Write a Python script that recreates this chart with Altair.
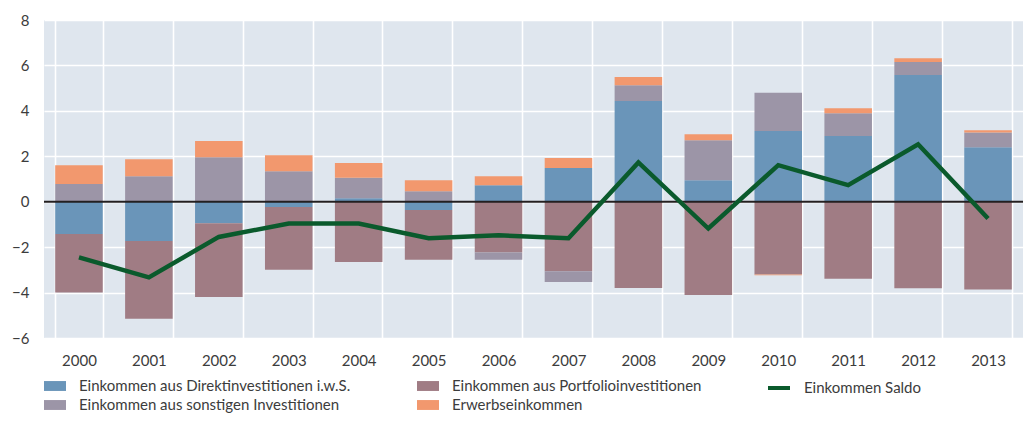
import altair as alt
import pandas as pd

years = [str(y) for y in range(2000, 2014)]
direkt = [-1.42, -1.73, -0.95, -0.23, 0.15, -0.37, 0.73, 1.48, 4.43, 0.95, 3.11, 2.89, 5.58, 2.40]
portfolio = [-2.58, -3.42, -3.24, -2.76, -2.65, -2.19, -2.24, -3.06, -3.80, -4.11, -3.20, -3.39, -3.81, -3.87]
sonstige = [0.78, 1.12, 1.96, 1.34, 0.90, 0.46, -0.32, -0.47, 0.70, 1.76, 1.69, 1.01, 0.57, 0.65]
erwerb = [0.83, 0.75, 0.71, 0.71, 0.65, 0.49, 0.39, 0.44, 0.36, 0.26, -0.04, 0.22, 0.17, 0.10]
saldo = [-2.45, -3.33, -1.55, -0.96, -0.96, -1.61, -1.48, -1.61, 1.73, -1.18, 1.61, 0.73, 2.53, -0.74]

series_names = [
    "Einkommen aus Direktinvestitionen i.w.S.",
    "Einkommen aus Portfolioinvestitionen",
    "Einkommen aus sonstigen Investitionen",
    "Erwerbseinkommen",
]
series_colors = ["#6a95b9", "#a07c84", "#9c95a7", "#f2986e"]
saldo_name = "Einkommen Saldo"
saldo_color = "#0a5a2c"
y_ticks = [-6, -4, -2, 0, 2, 4, 6, 8]

rows = []
for i, (name, vals) in enumerate(zip(series_names, [direkt, portfolio, sonstige, erwerb])):
    for yr, v in zip(years, vals):
        rows.append({"Jahr": yr, "Serie": name, "Wert": v, "Ordnung": i})
bars_df = pd.DataFrame(rows)
line_df = pd.DataFrame({"Jahr": years, "Wert": saldo, "Serie": [saldo_name] * len(years)})
zero_df = pd.DataFrame({"Wert": [0]})

FONT = "Lato"
LABEL_COLOR = "#3c3c3c"
LEG_Y = 355

x_enc = alt.X(
    "Jahr:O",
    scale=alt.Scale(paddingInner=0.32, paddingOuter=0.16),
    axis=alt.Axis(title=None, labelAngle=0, tickBand="extent", grid=True, ticks=False,
                  domain=False, labelPadding=15),
)
y_enc = alt.Y(
    "Wert:Q",
    stack="zero",
    scale=alt.Scale(domain=[-6, 8], nice=False, zero=False),
    axis=alt.Axis(title=None, values=y_ticks, grid=True, ticks=False, domain=False,
                  labelPadding=15),
)

bars = alt.Chart(bars_df).mark_bar().encode(
    x=x_enc,
    y=y_enc,
    color=alt.Color(
        "Serie:N",
        scale=alt.Scale(domain=series_names, range=series_colors),
        legend=alt.Legend(
            title=None, orient="none", legendX=0, legendY=LEG_Y, columns=2, direction="horizontal",
            symbolType="M-1,-0.45H1V0.45H-1Z", symbolSize=484, symbolStrokeWidth=0,
            symbolOpacity=1, labelFont=FONT, labelFontSize=15, labelColor=LABEL_COLOR,
            labelOffset=13, rowPadding=0, columnPadding=66, padding=0, labelLimit=400,
        ),
    ),
    order=alt.Order("Ordnung:Q", sort="ascending"),
)

zero_rule = alt.Chart(zero_df).mark_rule(color="#231f20", strokeWidth=2).encode(
    y=alt.Y("Wert:Q")
)

line = alt.Chart(line_df).mark_line(strokeWidth=4.5).encode(
    x=alt.X("Jahr:O"),
    y=alt.Y("Wert:Q"),
    stroke=alt.Stroke(
        "Serie:N",
        scale=alt.Scale(domain=[saldo_name], range=[saldo_color]),
        legend=alt.Legend(
            title=None, orient="none", legendX=722, legendY=LEG_Y,
            symbolType="stroke", symbolSize=484, symbolStrokeWidth=4,
            labelFont=FONT, labelFontSize=15, labelColor=LABEL_COLOR,
            labelOffset=12, padding=0,
        ),
    ),
)

chart = (
    alt.layer(bars, zero_rule, line)
    .properties(
        width=979, height=318,
        autosize=alt.AutoSizeParams(type="none"),
        padding={"left": 36, "top": 12, "right": 0, "bottom": 77},
    )
    .configure_view(stroke=None, fill="#dfe6ee")
    .configure_axis(gridColor="#ffffff", gridWidth=1.6, labelFont=FONT, labelFontSize=15,
                    labelColor=LABEL_COLOR)
)

chart.save("out.html", embed_options={"renderer": "svg", "actions": False})
